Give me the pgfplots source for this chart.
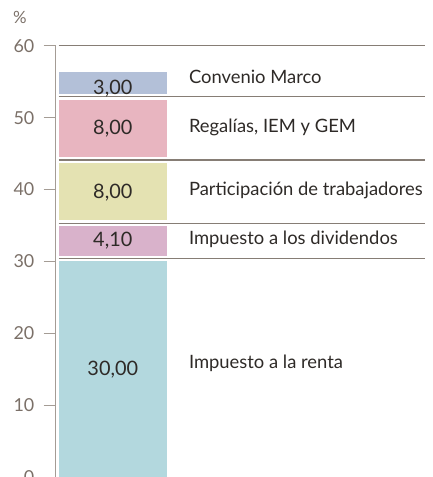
\documentclass[border=0pt]{standalone}
\usepackage{pgfplots}
\pgfplotsset{compat=1.18}
\usepackage{fontspec}
\setmainfont{Lato}

\definecolor{axgray}{HTML}{A49C95}
\definecolor{tickgray}{HTML}{7B7068}
\definecolor{sepgray}{HTML}{867D75}
\definecolor{txt}{HTML}{2E2A27}
\definecolor{c-renta}{HTML}{B3D8DE}
\definecolor{c-divid}{HTML}{D9B2CB}
\definecolor{c-trab}{HTML}{E4E2B2}
\definecolor{c-regal}{HTML}{E8B5C0}
\definecolor{c-conv}{HTML}{B3C0D8}

\pgfplotsset{
  base/.style={
    width=372pt, height=434pt, scale only axis,
    xmin=0, xmax=372, ymin=0, ymax=60,
    clip=false,
  },
}
\tikzset{
  valnode/.style={text=txt, font=\fontsize{20}{20}\selectfont},
  catnode/.style={text=txt, anchor=west, inner sep=0pt, font=\fontsize{18.5}{18.5}\selectfont},
}

\begin{document}
\begin{tikzpicture}
% stacked bar (gaps are empty segments)
\begin{axis}[base, name=ax,
    ybar stacked, bar width=109,
    axis x line=none, axis y line*=left,
    ytick={0,10,...,60},
    y axis line style={color=axgray, line width=1.6pt},
    tick align=outside, major tick length=12pt,
    ytick style={color=axgray, line width=1pt},
    yticklabel style={color=tickgray, font=\fontsize{18}{18}\selectfont, xshift=-6pt},
    /pgf/number format/assume math mode=true,
  ]
  \addplot[fill=c-renta, draw=none] coordinates {(57.5,30)};
  \addplot[fill=white, draw=none] coordinates {(57.5,0.8)};
  \addplot[fill=c-divid, draw=none] coordinates {(57.5,4.1)};
  \addplot[fill=white, draw=none] coordinates {(57.5,0.8)};
  \addplot[fill=c-trab, draw=none] coordinates {(57.5,8)};
  \addplot[fill=white, draw=none] coordinates {(57.5,0.8)};
  \addplot[fill=c-regal, draw=none] coordinates {(57.5,8)};
  \addplot[fill=white, draw=none] coordinates {(57.5,0.8)};
  \addplot[fill=c-conv, draw=none] coordinates {(57.5,3)};
\end{axis}

% separator lines and labels on top
\begin{axis}[base, hide axis]
  \addplot[sepgray, line width=1.1pt] coordinates {(3,30.4) (372,30.4)};
  \addplot[sepgray, line width=1.1pt] coordinates {(3,35.3) (372,35.3)};
  \addplot[sepgray, line width=1.1pt] coordinates {(3,44.1) (372,44.1)};
  \addplot[sepgray, line width=1.1pt] coordinates {(3,52.9) (372,52.9)};
  \addplot[sepgray, line width=1.1pt] coordinates {(3,60) (372,60)};

  % value labels
  \node[valnode] at (axis cs:57.5,15.0) {30,00};
  \node[valnode] at (axis cs:57.5,32.85) {4,10};
  \node[valnode] at (axis cs:57.5,39.6) {8,00};
  \node[valnode] at (axis cs:57.5,48.4) {8,00};
  \node[valnode] at (axis cs:57.5,54.0) {3,00};
  % category labels
  \node[catnode] at (axis cs:134,15.8) {Impuesto a la renta};
  \node[catnode] at (axis cs:134,33.0) {Impuesto a los dividendos};
  \node[catnode] at (axis cs:134,39.9) {Participación de trabajadores};
  \node[catnode] at (axis cs:134,48.6) {Regalías, IEM y GEM};
  \node[catnode] at (axis cs:134,55.6) {Convenio Marco};
  \node[text=tickgray, font=\fontsize{17}{17}\selectfont] at (axis cs:-36,63.9) {\%};
\end{axis}

\pgfresetboundingbox
\path[use as bounding box] (ax.south west) ++(-56pt,3pt) rectangle ++(435pt,477pt);
\end{tikzpicture}
\end{document}
